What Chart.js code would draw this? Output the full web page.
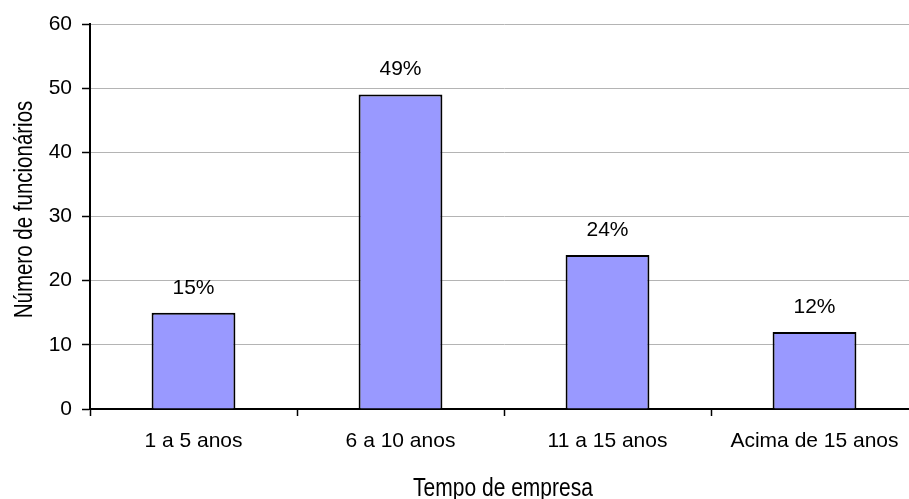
<!DOCTYPE html>
<html>
<head>
<meta charset="utf-8">
<script src="https://cdn.jsdelivr.net/npm/chart.js@4"></script>
<style>
    html, body { margin: 0; padding: 0; background: #fff; overflow: hidden; }
    #wrap { width: 920px; height: 499px; }
</style>
</head>
<body>
<div id="wrap"><canvas id="barChart"></canvas></div>
<script>
// ====== Data ======
const categories = ['1 a 5 anos', '6 a 10 anos', '11 a 15 anos', 'Acima de 15 anos'];
const employees = [15, 49, 24, 12];
const percentLabels = ['15%', '49%', '24%', '12%'];
const yTicks = [0, 10, 20, 30, 40, 50, 60];
const xTitle = 'Tempo de empresa';
const yTitle = 'Número de funcionários';

const fontFamily = "'Liberation Sans', Arial, sans-serif";
const tickFont = { family: fontFamily, size: 21 };

// ====== Labels above bars + narrow axis titles ======
const extraText = {
    id: 'extraText',
    afterDatasetsDraw(chart) {
        const ctx = chart.ctx;
        const meta = chart.getDatasetMeta(0);
        ctx.save();
        ctx.font = `${tickFont.size}px ${fontFamily}`;
        ctx.fillStyle = '#000';
        ctx.textAlign = 'center';
        ctx.textBaseline = 'middle';
        meta.data.forEach((bar, i) => {
            ctx.fillText(percentLabels[i], bar.x, bar.y - 25);
        });
        ctx.restore();

        // axis titles are condensed in the original, squeeze them horizontally
        const area = chart.chartArea;
        ctx.save();
        ctx.font = `25px ${fontFamily}`;
        ctx.fillStyle = '#000';
        ctx.textAlign = 'center';
        ctx.textBaseline = 'alphabetic';

        ctx.save();
        ctx.translate((area.left + area.right) / 2 - 1, 496);
        ctx.scale(0.84, 1);
        ctx.fillText(xTitle, 0, 0);
        ctx.restore();

        ctx.save();
        ctx.translate(32, (area.top + area.bottom) / 2 - 7);
        ctx.rotate(-Math.PI / 2);
        ctx.scale(0.82, 1);
        ctx.fillText(yTitle, 0, 0);
        ctx.restore();

        ctx.restore();
    }
};

const ctx = document.getElementById('barChart').getContext('2d');
new Chart(ctx, {
    type: 'bar',
    data: {
        labels: categories,
        datasets: [{
            data: employees,
            backgroundColor: '#9999ff',
            borderColor: '#000',
            borderWidth: 2,
            categoryPercentage: 1,
            barPercentage: 0.405
        }]
    },
    options: {
        responsive: true,
        maintainAspectRatio: false,
        animation: false,
        layout: { padding: { top: 24, right: 2, left: 0, bottom: 0 } },
        plugins: {
            legend: { display: false },
            tooltip: { enabled: false }
        },
        scales: {
            x: {
                grid: {
                    drawOnChartArea: false,
                    offset: true,
                    tickLength: 7,
                    tickColor: '#000',
                    tickWidth: 1.5
                },
                border: { color: '#000', width: 2 },
                ticks: { color: '#000', font: tickFont, padding: 13 },
                afterFit(scale) { scale.height = 90; }
            },
            y: {
                min: 0,
                max: 60,
                afterBuildTicks(scale) { scale.ticks = yTicks.map(v => ({ value: v })); },
                grid: {
                    color: '#b4b4b4',
                    lineWidth: 1,
                    tickLength: 8,
                    tickColor: '#000',
                    tickWidth: 1.5
                },
                border: { color: '#000', width: 2 },
                ticks: { color: '#000', font: tickFont, padding: 10 },
                afterFit(scale) { scale.width = 90; }
            }
        }
    },
    plugins: [extraText]
});
</script>
</body>
</html>
